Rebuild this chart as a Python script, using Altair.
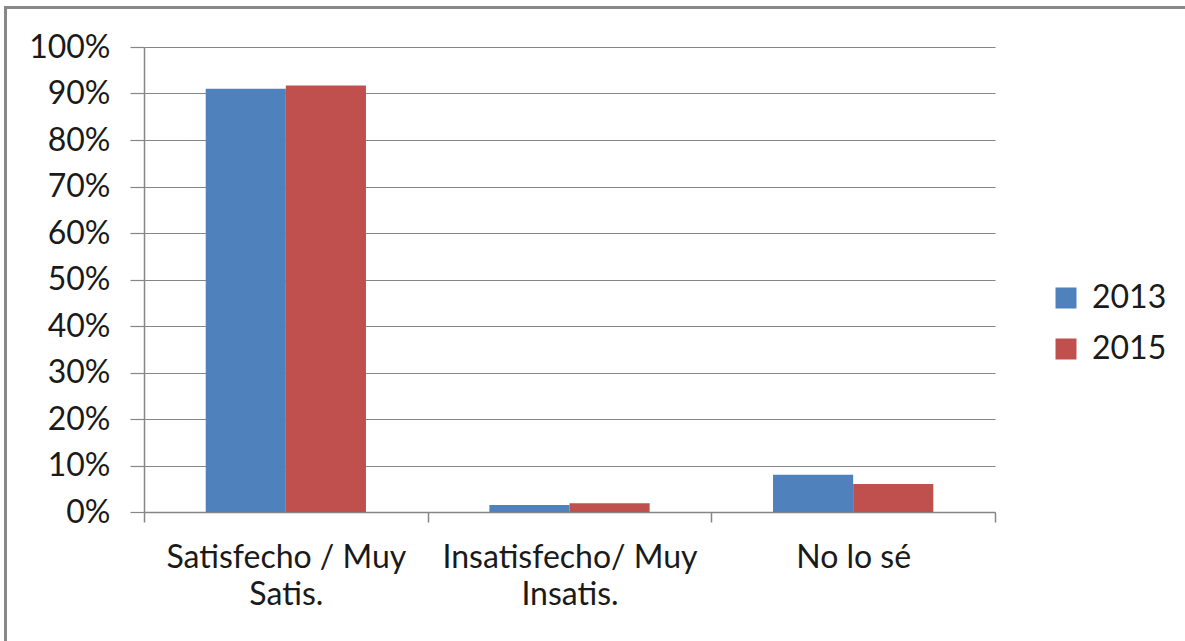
import altair as alt
import pandas as pd

categories = ["Satisfecho / Muy\nSatis.", "Insatisfecho/ Muy\nInsatis.", "No lo sé"]
years = ["2013", "2015"]
values_2013 = [0.910, 0.015, 0.080]
values_2015 = [0.917, 0.019, 0.060]
colors = ["#4F81BD", "#C0504D"]
y_ticks = [i / 10 for i in range(11)]

rows = []
for c, v in zip(categories, values_2013):
    rows.append({"cat": c, "year": "2013", "val": v})
for c, v in zip(categories, values_2015):
    rows.append({"cat": c, "year": "2015", "val": v})
df = pd.DataFrame(rows)

FONT = "Lato"
GRAY = "#868686"

bars = alt.Chart(df).mark_bar().encode(
    x=alt.X("cat:N", sort=categories,
            scale=alt.Scale(paddingInner=0, paddingOuter=0),
            axis=alt.Axis(title=None, labelAngle=0, tickBand="extent",
                          labelExpr="isValid(datum.value) ? split(datum.value, '\\n') : ''",
                          labelFont=FONT, labelFontSize=32, labelColor="#1a1a1a",
                          labelLineHeight=37, labelPadding=20, labelLimit=400,
                          tickSize=10, tickColor=GRAY, domainColor=GRAY,
                          tickWidth=1.5, domainWidth=1.5, grid=False,
                          labelBaseline="top")),
    xOffset=alt.XOffset("year:N", sort=years,
                        scale=alt.Scale(paddingInner=0, paddingOuter=0.77)),
    y=alt.Y("val:Q", scale=alt.Scale(domain=[0, 1]),
            axis=alt.Axis(title=None, values=y_ticks, format=".0%",
                          labelFont=FONT, labelFontSize=32, labelColor="#1a1a1a",
                          labelPadding=20, tickSize=14, tickColor=GRAY,
                          domainColor=GRAY, gridColor=GRAY, gridWidth=1.2,
                          tickWidth=1.2, domainWidth=1.5)),
    color=alt.Color("year:N", sort=years,
                    scale=alt.Scale(domain=years, range=colors),
                    legend=alt.Legend(title=None, orient="none",
                                      legendX=906, legendY=235,
                                      symbolType="square", symbolSize=441,
                                      symbolStrokeWidth=0,
                                      labelFont=FONT, labelFontSize=32,
                                      labelColor="#1a1a1a", labelOffset=10,
                                      rowPadding=19)),
)

border = alt.Chart(pd.DataFrame({"a": [1]})).mark_rect(
    fill="white", fillOpacity=0, stroke="#888888", strokeWidth=3
).encode(
    x=alt.value(-138.5), x2=alt.value(1060),
    y=alt.value(-39.5), y2=alt.value(660),
)

chart = alt.layer(border, bars).properties(
    width=851, height=465,
    autosize=alt.AutoSizeParams(type="none"),
    padding={"left": 144, "top": 47, "right": 190, "bottom": 129},
).configure_view(stroke=None)

chart.save("out.html", embed_options={"renderer": "svg", "actions": False})
